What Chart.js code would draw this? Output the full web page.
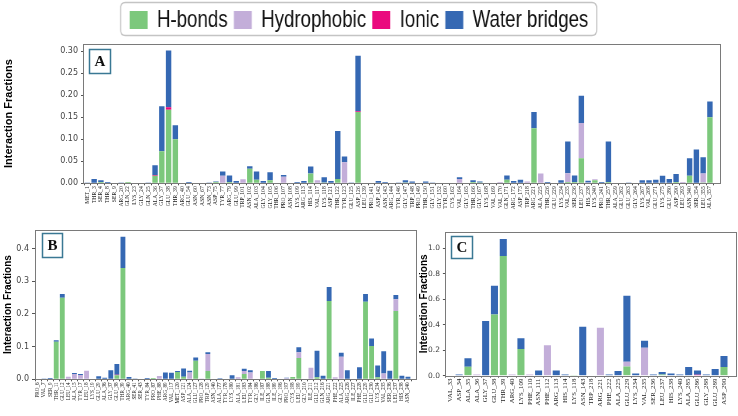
<!DOCTYPE html>
<html><head><meta charset="utf-8">
<script src="https://cdn.jsdelivr.net/npm/chart.js@4.4.1/dist/chart.umd.min.js"></script>
<style>
body{margin:0;background:#fff;width:738px;height:416px;position:relative;overflow:hidden}
canvas{position:absolute}
#cL{transform:scaleX(0.7792);transform-origin:0 0}
</style></head><body>
<canvas id="cL" width="616" height="100" style="left:119px;top:0px"></canvas>
<canvas id="cA" width="738" height="196" style="left:0;top:36px"></canvas>
<canvas id="cB" width="425" height="194" style="left:0;top:222px"></canvas>
<canvas id="cC" width="323" height="194" style="left:415px;top:222px"></canvas>
<script>
// ---------------- DATA ----------------
const seriesNames = ["H-bonds","Hydrophobic","Ionic","Water bridges"];
const seriesColors = ["#7cc87c","#c3aed9","#ea0a7e","#3568b3"];

const labelsA = ["MET_1","THR_3","SER_4","THR_8","SER_9","ARG_20","GLN_22","LYS_23","GLY_24","GLN_25",
"ALA_36","GLY_37","GLU_38","THR_39","ARG_40","GLU_54","ASN_60","ASN_67","ASN_73","ASP_75",
"TYR_77","ARG_79","GLU_99","TRP_101","ASN_102","ALA_103","GLY_104","GLY_105","THR_106","PRO_107",
"ASN_108","LYS_109","ARG_113","HIS_114","VAL_117","LYS_118","ASP_121","THR_122","TYR_123","GLU_125",
"ASP_126","LEU_139","PRO_141","ASP_142","ASN_143","ARG_144","TYR_146","GLY_147","TRP_148","PRO_149",
"THR_150","GLY_151","GLY_152","TYR_160","CYS_162","VAL_164","GLY_165","THR_166","GLY_167","LYS_168",
"VAL_169","VAL_170","GLN_171","ARG_172","ASP_173","TRP_218","ARG_221","ALA_225","THR_226","GLU_229",
"LYS_234","VAL_235","SER_236","LEU_237","HIS_238","LYS_240","PRO_241","THR_257","ALA_259","GLU_262",
"GLU_263","GLY_264","LYS_267","VAL_268","GLU_271","LYS_275","GLU_280","ASP_290","LEU_293","ASN_340",
"SER_354","LEU_355","ALA_357"];
const hbondsA = [0,0,0.003,0,0,0,0.003,0,0,0,
0.017,0.073,0.167,0.100,0,0,0,0,0,0.003,
0,0.003,0,0,0.033,0.008,0,0.007,0,0,
0,0,0,0.022,0,0.002,0,0.010,0,0,
0.162,0,0,0,0,0,0,0.002,0,0,
0,0,0,0,0,0,0,0.003,0.002,0,
0,0,0.008,0,0,0,0.125,0,0,0,
0,0.003,0.003,0.057,0,0.007,0,0.003,0,0,
0,0,0,0,0,0,0,0.003,0,0.017,
0,0.002,0.150];
const hydroA = [0,0,0,0,0,0,0,0,0,0,
0,0,0,0,0,0,0,0,0,0,
0.017,0,0,0.009,0,0,0,0,0,0.015,
0,0,0,0,0.007,0,0,0,0.048,0,
0,0,0,0,0,0,0.001,0,0,0,
0,0,0,0,0,0.010,0,0,0,0,
0,0.003,0,0,0,0.004,0,0.022,0,0,
0,0.020,0,0.080,0.002,0.002,0,0,0,0,
0,0,0,0,0,0,0,0,0.003,0,
0,0.020,0];
const ionicA = [0,0,0,0,0,0,0,0,0,0,
0.002,0,0.006,0,0,0,0,0,0,0,
0,0,0,0,0,0,0,0,0,0,
0,0,0,0,0,0,0,0,0,0,
0.002,0,0,0,0,0,0,0,0,0,
0,0,0,0,0,0,0,0,0,0,
0,0,0,0,0,0,0,0,0,0,
0,0,0,0,0,0,0,0,0,0,
0,0,0,0,0,0,0,0,0,0,
0,0,0];
const waterA = [0.002,0.010,0.004,0.003,0.001,0.002,0,0,0,0.002,
0.022,0.102,0.129,0.032,0.001,0.003,0,0,0.002,0.001,
0.010,0.015,0.005,0,0.006,0.019,0.005,0.018,0,0.004,
0,0.003,0.005,0.016,0,0.012,0.005,0.109,0.013,0.002,
0.126,0,0,0.005,0.003,0,0.001,0.005,0.004,0,
0.004,0.002,0,0,0,0.004,0,0.004,0.002,0.001,
0,0,0.010,0.005,0.008,0,0.037,0,0.003,0,
0.007,0.072,0.015,0.062,0.004,0,0.003,0.092,0.001,0,
0.002,0,0.007,0.007,0.008,0.017,0.010,0.018,0,0.040,
0.077,0.037,0.036];
const ticksA = [0,0.05,0.10,0.15,0.20,0.25,0.30];

const labelsB = ["PRO_6","VAL_7","SER_9","THR_11","GLU_12","LEU_14","ALA_15","TYR_17","LEU_18","LYS_19",
"GLU_29","ALA_36","GLY_37","GLU_38","THR_39","ARG_40","SER_41","SER_43","TYR_84","PRO_87",
"PHE_88","ARG_89","VAL_117","MET_120","ASP_121","ALA_124","GLU_127","PRO_128","TRP_129","ASN_140",
"ALA_177","TYR_178","LYS_180","ALA_181","LEU_183","TYR_184","GLY_186","ILE_187","GLN_188","ILE_189",
"GLY_196","PRO_197","CYS_198","LEU_199","GLY_210","ILE_211","GLU_212","GLN_216","ARG_221","PHE_222",
"ALA_225","ARG_226","ILE_227","PHE_228","GLU_229","GLU_230","LYS_234","VAL_235","SER_236","LEU_237",
"HIS_238","ASN_240"];
const hbondsB = [0,0,0,0.115,0.249,0,0,0,0,0,
0,0,0,0.012,0.340,0,0,0,0,0.004,
0,0,0,0.022,0.008,0,0.057,0,0.025,0,
0,0,0,0,0.016,0,0,0.025,0.005,0,
0,0,0.007,0.065,0,0,0.006,0,0.239,0,
0,0,0,0,0.237,0.102,0.006,0,0,0.209,
0,0];
const hydroB = [0,0,0,0,0,0.008,0.016,0.013,0.026,0,
0,0,0,0,0,0,0,0,0,0,
0.010,0,0,0,0,0.021,0,0.001,0.052,0,
0,0,0,0.006,0.009,0.021,0,0,0,0,
0,0.003,0,0.018,0,0.035,0,0,0,0.006,
0.069,0,0,0,0,0,0,0.018,0,0.036,
0,0];
const ionicB = [0,0,0,0,0,0,0,0,0,0,
0,0,0,0.002,0,0,0,0,0,0,
0,0,0,0,0,0,0,0,0,0,
0,0,0,0,0,0,0,0,0,0,
0,0,0,0,0,0,0,0,0,0,
0,0,0,0,0,0,0,0,0,0,
0,0];
const waterB = [0,0.001,0.004,0.004,0.012,0,0.003,0.003,0,0,
0.009,0.005,0.028,0.033,0.096,0.007,0.001,0,0.004,0,
0,0.021,0.020,0.003,0.025,0.005,0.010,0,0.006,0.002,
0.003,0,0.012,0,0.007,0.007,0,0,0.020,0.004,
0,0.002,0,0.015,0,0,0.081,0.011,0.043,0,
0.012,0.028,0,0.037,0.024,0.023,0.036,0.068,0.026,0.013,
0.011,0.008];
const ticksB = [0,0.1,0.2,0.3,0.4];

const labelsC = ["VAL_33","ASP_34","ALA_35","ALA_36","GLY_37","GLU_38","THR_39","ARG_40","LYS_109","PHE_110",
"ASN_111","PHE_112","ARG_113","HIS_114","LYS_118","ASN_143","TRP_218","ARG_221","PHE_222","ALA_225",
"GLU_229","LYS_234","VAL_235","SER_236","LEU_237","HIS_238","LYS_240","ALA_285","GLU_286","GLY_288",
"GLU_289","ASP_290"];
const hbondsC = [0,0,0.07,0,0,0.48,0.94,0,0.21,0,
0,0,0,0,0.005,0,0,0,0,0,
0.073,0,0,0,0.01,0,0,0,0,0,
0,0.068];
const hydroC = [0,0,0,0.01,0,0,0,0.01,0,0.01,
0,0.24,0,0,0,0,0,0.377,0,0,
0.037,0,0.22,0,0,0,0,0,0,0,
0,0];
const ionicC = [0,0,0,0,0,0,0,0,0,0,
0,0,0,0,0,0,0,0,0,0,
0,0,0,0,0,0,0,0,0.008,0,
0,0];
const waterC = [0,0.01,0.066,0,0.43,0.227,0.133,0,0.083,0,
0.04,0,0.04,0.01,0,0.385,0,0,0.01,0.037,
0.518,0.018,0.055,0.01,0.02,0.018,0.01,0.068,0.032,0.01,
0.052,0.087];
const ticksC = [0,0.2,0.4,0.6,0.8,1.0];

// ---------------- HELPERS ----------------
const SANS = "'DejaVu Sans', sans-serif";
const SERIF = "'Liberation Serif', 'DejaVu Serif', serif";
const TITLE = "'Liberation Sans', Arial, sans-serif";

function makeDatasets(h, p, i, w){
  return [h,p,i,w].map((d,k)=>({label:seriesNames[k], data:d, backgroundColor:seriesColors[k],
    borderWidth:0, barPercentage:0.8, categoryPercentage:1.0, stack:'s'}));
}

const framePlugin = {
  id:'frame',
  afterDraw(chart, args, o){
    const {ctx, chartArea:a} = chart;
    ctx.save();
    ctx.strokeStyle = '#7a7a7a'; ctx.lineWidth = 1;
    const L = Math.round(a.left - (o.extraLeft||0))+0.5, T = Math.round(a.top)+0.5;
    const R = Math.round(a.right + (o.extraRight||0))+0.5, B = Math.round(a.bottom)+0.5;
    ctx.strokeRect(L, T, R-L, B-T);
    if (o.letter){
      const x = L + o.lx, y = T + o.ly;
      ctx.fillStyle = '#fff'; ctx.fillRect(x, y, o.lw, o.lh);
      ctx.strokeStyle = '#3a7894'; ctx.lineWidth = 1.5; ctx.strokeRect(x, y, o.lw, o.lh);
      ctx.fillStyle = '#111'; ctx.font = "bold " + o.fs + "px " + SERIF;
      ctx.textAlign = 'center'; ctx.textBaseline = 'middle';
      ctx.fillText(o.letter, x + o.lw/2, y + o.lh/2 + 1);
    }
    ctx.restore();
  }
};

function panel(id, labels, h, p, i, w, cfg){
  return new Chart(document.getElementById(id), {
    type:'bar',
    data:{labels, datasets:makeDatasets(h,p,i,w)},
    plugins:[framePlugin],
    options:{
      responsive:false, animation:false, events:[],
      layout:{padding:{top:cfg.padTop, right:cfg.padRight, left:0, bottom:0}},
      plugins:{legend:{display:false}, tooltip:{enabled:false}, frame:cfg.frame},
      scales:{
        x:{stacked:true, offset:true,
          grid:{display:true, drawOnChartArea:false, drawTicks:true, tickLength:2, color:'#555'},
          border:{display:false},
          ticks:{autoSkip:false, maxRotation:90, minRotation:90, padding:1, color:'#222',
            font:{family:SERIF, size:cfg.xFont}},
          afterFit(s){ s.height = cfg.xH; }
        },
        y:{stacked:true, min:0, max:cfg.yMax,
          afterBuildTicks(s){ s.ticks = cfg.ticks.map(v=>({value:v})); },
          grid:{display:true, drawOnChartArea:false, drawTicks:true, tickLength:3, color:'#555'},
          border:{display:false},
          ticks:{color:'#444', padding:3, font:{family:SANS, size:cfg.yFont},
            callback:(v)=>v.toFixed(cfg.dec)},
          title:{display:true, text:'Interaction Fractions', color:'#000', padding:{top:cfg.titleTop||0,bottom:cfg.titlePad},
            font:{family:TITLE, size:cfg.titleSize, weight:'bold'}},
          afterFit(s){ s.width = cfg.yW; }
        }
      }
    }
  });
}

// ---------------- LEGEND ----------------
const legendBox = {
  id:'legendBox',
  beforeDraw(chart){
    const {ctx, width} = chart;
    ctx.save();
    ctx.strokeStyle = '#c4c4c4'; ctx.lineWidth = 1.5;
    const r = 6, x = 2, y = 2.5, w = width-5, hh = 33;
    ctx.beginPath();
    ctx.moveTo(x+r,y); ctx.lineTo(x+w-r,y); ctx.quadraticCurveTo(x+w,y,x+w,y+r);
    ctx.lineTo(x+w,y+hh-r); ctx.quadraticCurveTo(x+w,y+hh,x+w-r,y+hh);
    ctx.lineTo(x+r,y+hh); ctx.quadraticCurveTo(x,y+hh,x,y+hh-r);
    ctx.lineTo(x,y+r); ctx.quadraticCurveTo(x,y,x+r,y); ctx.closePath();
    ctx.stroke();
    ctx.restore();
  }
};
new Chart(document.getElementById('cL'), {
  type:'bar',
  data:{labels:[], datasets:seriesNames.map((n,k)=>({label:n, data:[], backgroundColor:seriesColors[k], borderWidth:0}))},
  plugins:[legendBox],
  options:{responsive:false, animation:false, events:[],
    layout:{padding:0},
    scales:{x:{display:false}, y:{display:false}},
    plugins:{tooltip:{enabled:false},
      legend:{display:true, position:'top', align:'center',
        labels:{boxWidth:23, boxHeight:18, padding:8, color:'#111',
          font:{family:"'Liberation Sans', Arial, sans-serif", size:24}}}}
  }
});

// ---------------- PANELS ----------------
panel('cA', labelsA, hbondsA, hydroA, ionicA, waterA, {
  padTop:6, padRight:24.7, xH:48.7, yW:84, yMax:0.317, ticks:ticksA, dec:2,
  xFont:5.6, yFont:8, titleSize:11, titlePad:22, titleTop:2,
  frame:{extraRight:6.7, extraLeft:1, letter:'A', lx:6, ly:5, lw:21, lh:24, fs:15}
});
panel('cB', labelsB, hbondsB, hydroB, ionicB, waterB, {
  padTop:7.5, padRight:14, xH:36.7, yW:35, yMax:0.457, ticks:ticksB, dec:1,
  xFont:5.2, yFont:8, titleSize:10, titlePad:2, titleTop:2,
  frame:{extraRight:5, letter:'B', lx:7, ly:3, lw:20, lh:24, fs:15}
});
panel('cC', labelsC, hbondsC, hydroC, ionicC, waterC, {
  padTop:10, padRight:9.6, xH:40.3, yW:30.9, yMax:1.128, ticks:ticksC, dec:1,
  xFont:6.8, yFont:7.5, titleSize:10, titlePad:1, titleTop:3,
  frame:{extraRight:7.6, extraLeft:1, letter:'C', lx:6, ly:4, lw:21, lh:22, fs:15}
});
</script>
</body></html>
